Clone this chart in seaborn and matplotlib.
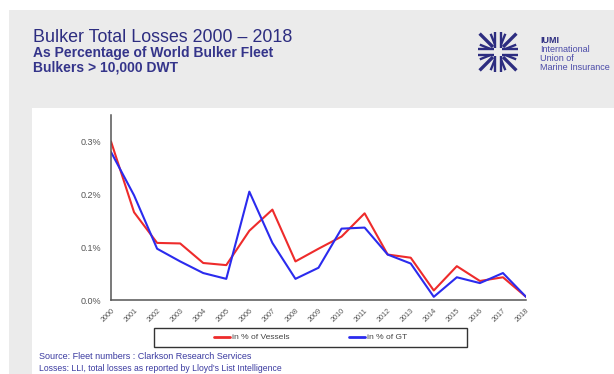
import numpy as np
import pandas as pd
import matplotlib
matplotlib.use("Agg")
import matplotlib.pyplot as plt
from matplotlib.patches import Rectangle
from matplotlib.lines import Line2D
import seaborn as sns

years = list(range(2000, 2019))
vessels = [0.300, 0.166, 0.108, 0.107, 0.070, 0.066, 0.131, 0.171, 0.073, 0.097,
           0.120, 0.164, 0.086, 0.080, 0.018, 0.064, 0.036, 0.043, 0.006]
gt = [0.280, 0.198, 0.097, 0.073, 0.051, 0.040, 0.205, 0.108, 0.040, 0.061,
      0.135, 0.137, 0.086, 0.069, 0.006, 0.043, 0.032, 0.051, 0.006]
series_names = ["in % of Vessels", "in % of GT"]
ytick_vals = [0.0, 0.1, 0.2, 0.3]
ytick_labels = ["0.0%", "0.1%", "0.2%", "0.3%"]

df = pd.DataFrame({
    "year": years * 2,
    "value": vessels + gt,
    "series": [series_names[0]] * len(years) + [series_names[1]] * len(years),
})

sns.set_style("white")
plt.rcParams["font.family"] = ["Liberation Sans", "DejaVu Sans"]

W, H = 614, 374
fig = plt.figure(figsize=(W / 100, H / 100), dpi=100)
fig.patch.set_facecolor("white")

def fx(px):
    return px / W

def fy(py):
    return 1 - py / H

# background panels
fig.add_artist(Rectangle((fx(9), 0), 1, fy(10), transform=fig.transFigure,
                         facecolor="#ebebeb", edgecolor="none", zorder=0))
fig.add_artist(Rectangle((fx(32), 0), 1, fy(108), transform=fig.transFigure,
                         facecolor="white", edgecolor="none", zorder=0))

navy = "#2d2d80"
fig.text(fx(33), fy(42), "Bulker Total Losses 2000 \u2013 2018", fontsize=12.9,
         color=navy, va="baseline", ha="left")
fig.text(fx(33), fy(57), "As Percentage of World Bulker Fleet", fontsize=10,
         color="#34348a", va="baseline", ha="left", weight="bold")
fig.text(fx(33), fy(71), "Bulkers > 10,000 DWT", fontsize=10,
         color="#34348a", va="baseline", ha="left", weight="bold")

# logo
cx, cy, rr = 498, 52, 20
lax = fig.add_axes([fx(cx - rr), fy(cy + rr), fx(2 * rr), fy(cy - rr) - fy(cy + rr)])
lax.set_xlim(-1, 1)
lax.set_ylim(-1, 1)
lax.axis("off")
lw = 1.7
g = 0.14
for sx in (-1, 1):
    for sy in (-1, 1):
        lax.plot([sx * g, sx * g], [sy * 0.22, sy * 1.0], color=navy, lw=lw,
                 solid_capstyle="butt")
        lax.plot([sx * 0.22, sx * 1.0], [sy * g, sy * g], color=navy, lw=lw,
                 solid_capstyle="butt")
        lax.plot([sx * 0.25, sx * 0.92], [sy * 0.25, sy * 0.92], color=navy, lw=lw + 0.7,
                 solid_capstyle="butt")
        for a in (22, 68):
            ang = np.deg2rad(a)
            lax.plot([sx * 0.40 * np.cos(ang), sx * 0.98 * np.cos(ang)],
                     [sy * 0.40 * np.sin(ang), sy * 0.98 * np.sin(ang)],
                     color=navy, lw=lw, solid_capstyle="butt")
fig.text(fx(540), fy(43), "IUMI", fontsize=6.5, color=navy, weight="bold", va="baseline")
fig.text(fx(540), fy(52), "International", fontsize=6.5, color="#4a4aa8", va="baseline")
fig.text(fx(540), fy(61), "Union of", fontsize=6.5, color="#4a4aa8", va="baseline")
fig.text(fx(540), fy(70), "Marine Insurance", fontsize=6.5, color="#4a4aa8", va="baseline")

# main axes
ax = fig.add_axes([fx(111), fy(300), fx(526) - fx(111), fy(115) - fy(300)])
ax.set_facecolor("none")
colors = ["#ee2b2b", "#2b2bee"]
sns.lineplot(data=df, x="year", y="value", hue="series",
             palette=colors, linewidth=1.5, ax=ax)
old = ax.get_legend()
if old is not None:
    old.remove()
handles = [Line2D([], [], color=c, lw=2) for c in colors]

ax.set_xlim(2000, 2018)
ax.set_ylim(0, 0.35)
ax.set_xticks(years)
ax.set_xticklabels([str(y) for y in years], rotation=45, ha="right",
                   rotation_mode="anchor", fontsize=5.2, color="#555555")
ax.set_yticks(ytick_vals)
ax.set_yticklabels(ytick_labels, fontsize=6.5, color="#555555")
ax.set_xlabel("")
ax.set_ylabel("")
for s in ["top", "right"]:
    ax.spines[s].set_visible(False)
for s in ["left", "bottom"]:
    ax.spines[s].set_color("#555555")
    ax.spines[s].set_linewidth(1.1)
ax.tick_params(axis="both", which="both", length=3, width=0.8, color="#555555",
               direction="out")
ax.tick_params(axis="y", pad=4)
ax.tick_params(axis="x", pad=2)
ax.grid(False)

# legend
fig.add_artist(Rectangle((fx(154), fy(347)), fx(467) - fx(154), fy(328) - fy(347),
                         transform=fig.transFigure, facecolor="white",
                         edgecolor="#333333", lw=1.0, zorder=1))
fig.legend(handles, series_names, loc="center", bbox_to_anchor=(fx(311), fy(337.5)),
           ncol=2, frameon=False, fontsize=6.1, handlelength=1.9, handletextpad=0.25,
           columnspacing=7.0, labelcolor="#444444", borderaxespad=0, borderpad=0)

fig.text(fx(39), fy(359), "Source: Fleet numbers : Clarkson Research Services",
         fontsize=6.5, color="#3a3aa0", va="baseline")
fig.text(fx(39), fy(371), "Losses: LLI, total losses as reported by Lloyd's List Intelligence",
         fontsize=6.2, color="#3a3aa0", va="baseline")

fig.savefig("out.png", dpi=100, facecolor=fig.get_facecolor())
